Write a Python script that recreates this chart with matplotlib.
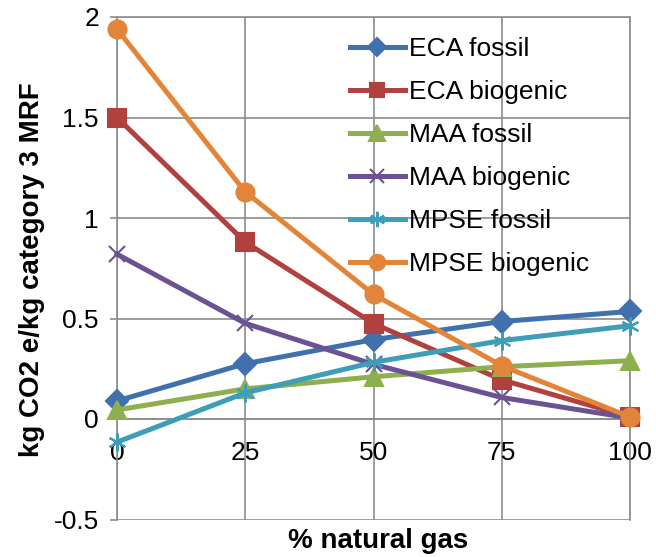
import matplotlib.pyplot as plt

plt.rcParams['font.family'] = ['Liberation Sans', 'DejaVu Sans']

# share of natural gas in the fuel mix (%)
gas_share = [0, 25, 50, 75, 100]

eca_fossil = [0.09, 0.275, 0.395, 0.485, 0.535]
eca_biogenic = [1.50, 0.88, 0.475, 0.195, 0.01]
maa_fossil = [0.045, 0.15, 0.21, 0.26, 0.29]
maa_biogenic = [0.82, 0.476, 0.272, 0.107, 0.005]
mpse_fossil = [-0.115, 0.13, 0.282, 0.39, 0.464]
mpse_biogenic = [1.94, 1.13, 0.62, 0.265, 0.01]

series = [
    ("ECA fossil", eca_fossil, "#4171AC", "D", 11),
    ("ECA biogenic", eca_biogenic, "#B0413E", "s", 12.5),
    ("MAA fossil", maa_fossil, "#8DAF4D", "^", 13),
    ("MAA biogenic", maa_biogenic, "#6C5193", "x", 12),
    ("MPSE fossil", mpse_fossil, "#3E9DB7", (6, 2, 0), 13),
    ("MPSE biogenic", mpse_biogenic, "#E2853A", "o", 13),
]

fig = plt.figure(figsize=(6.56, 5.57), dpi=100)
ax = fig.add_axes([117 / 656, 1 - 519.5 / 557, 513 / 656, 502.5 / 557])

for name, vals, color, marker, ms in series:
    ax.plot(gas_share, vals, color=color, lw=3.6, marker=marker, ms=ms,
            mec=color, mfc=color, mew=1.5, label=name, clip_on=False, zorder=3)

ax.set_xlim(0, 100)
ax.set_ylim(-0.5, 2)
ax.set_xticks(gas_share)
ax.set_yticks([-0.5, 0, 0.5, 1, 1.5, 2])
ax.set_yticklabels(["-0.5", "0", "0.5", "1", "1.5", "2"])
ax.grid(True, color="#8C8C8C", lw=1.2, zorder=0)

for side in ["left", "right", "top", "bottom"]:
    ax.spines[side].set_color("#8C8C8C")
    ax.spines[side].set_linewidth(1.2)
ax.spines["bottom"].set_position(("data", 0))

ax.tick_params(axis="y", length=5, width=1.2, color="#8C8C8C", labelsize=19, pad=8)
ax.tick_params(axis="x", length=0, labelsize=19, pad=16)

fig.text(32 / 656, 1 - 270 / 557, "kg CO2 e/kg category 3 MRF", rotation=90,
         ha="center", va="center", fontsize=20, fontweight="bold")
fig.text(378 / 656, 1 - 541 / 557, "% natural gas", ha="center", va="center",
         fontsize=20, fontweight="bold")

ax.legend(loc="upper left", bbox_to_anchor=(350 / 656, 1 - 37 / 557),
          bbox_transform=fig.transFigure, frameon=False, fontsize=19,
          handlelength=2.08, handletextpad=0.15, labelspacing=0.72,
          borderpad=0, borderaxespad=0, markerscale=0.85)

fig.savefig("out.png", dpi=100)
